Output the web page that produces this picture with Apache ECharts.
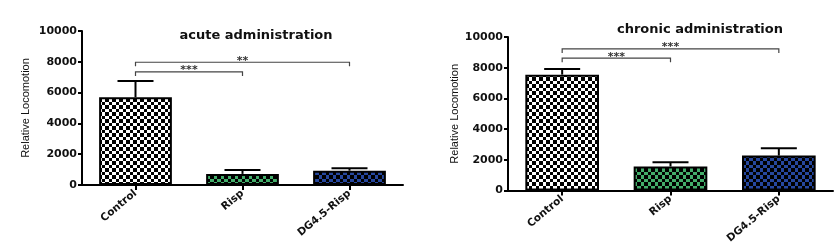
<!DOCTYPE html>
<html>
<head>
<meta charset="utf-8">
<script src="https://cdn.jsdelivr.net/npm/echarts@6/dist/echarts.min.js"></script>
<style>
  html, body { margin: 0; padding: 0; background: #fff; }
  #chart { width: 840px; height: 246px; }
</style>
</head>
<body>
<div id="chart"></div>
<script>
// groups on the x axis
var categories = ["Control", "Risp", "DG4.5-Risp"];
var yTicks = [0, 2000, 4000, 6000, 8000, 10000];

// acute administration: mean and top of error bar
var acuteMean = [5700, 720, 930];
var acuteUpper = [6750, 975, 1085];
// chronic administration
var chronicMean = [7550, 1570, 2280];
var chronicUpper = [7915, 1850, 2750];

// significance brackets: [from, to, level, stars]
var acuteSig = [[0, 1, 7340, "***"], [0, 2, 7970, "**"]];
var chronicSig = [[0, 1, 8620, "***"], [0, 2, 9225, "***"]];

function checker(bg) {
  var c = document.createElement("canvas");
  c.width = 7;
  c.height = 7;
  var ctx = c.getContext("2d");
  ctx.fillStyle = bg;
  ctx.fillRect(0, 0, 7, 7);
  ctx.fillStyle = "#000";
  ctx.fillRect(0, 0, 4, 4);
  ctx.fillRect(4, 4, 3, 3);
  return { image: c, repeat: "repeat" };
}
var fills = [checker("#ffffff"), checker("#43ad6a"), checker("#26479e")];

var tickFont = "DejaVu Sans";

function makeGrid(left, top, width, height) {
  return { left: left, top: top, width: width, height: height };
}

function xAxis(idx) {
  return {
    type: "category",
    gridIndex: idx,
    data: categories,
    axisLine: { lineStyle: { color: "#000", width: 2 } },
    axisTick: { show: true, alignWithLabel: true, length: 5, lineStyle: { color: "#000", width: 2 } },
    axisLabel: {
      rotate: 40,
      margin: 7,
      color: "#111",
      fontFamily: tickFont,
      fontWeight: "bold",
      fontSize: 10.5,
      interval: 0,
    },
  };
}

function yAxis(idx, gap) {
  return {
    type: "value",
    gridIndex: idx,
    min: yTicks[0],
    max: yTicks[yTicks.length - 1],
    interval: 2000,
    name: "Relative Locomotion",
    nameLocation: "middle",
    nameGap: gap,
    nameTextStyle: { fontFamily: "Liberation Sans", fontSize: 11, color: "#111" },
    splitLine: { show: false },
    axisLine: { show: true, lineStyle: { color: "#000", width: 2 } },
    axisTick: { show: true, length: 4, lineStyle: { color: "#000", width: 2 } },
    axisLabel: {
      margin: 5,
      color: "#111",
      fontFamily: tickFont,
      fontWeight: "bold",
      fontSize: 11,
      formatter: function (v) { return String(v); },
    },
  };
}

function barSeries(idx, values) {
  return {
    type: "bar",
    xAxisIndex: idx,
    yAxisIndex: idx,
    barWidth: "68%",
    data: values.map(function (v, i) {
      return { value: v, itemStyle: { color: fills[i] } };
    }),
    itemStyle: { borderColor: "#000", borderWidth: 2 },
    z: 2,
  };
}

function errorSeries(idx, means, uppers) {
  return {
    type: "custom",
    xAxisIndex: idx,
    yAxisIndex: idx,
    data: means.map(function (m, i) { return [i, m, uppers[i]]; }),
    renderItem: function (params, api) {
      var bottom = api.coord([api.value(0), api.value(1)]);
      var top = api.coord([api.value(0), api.value(2)]);
      var half = 18;
      var style = { stroke: "#000", lineWidth: 2 };
      return {
        type: "group",
        children: [
          { type: "line", shape: { x1: top[0], y1: top[1], x2: bottom[0], y2: bottom[1] }, style: style },
          { type: "line", shape: { x1: top[0] - half, y1: top[1], x2: top[0] + half, y2: top[1] }, style: style },
        ],
      };
    },
    z: 3,
  };
}

function sigSeries(idx, brackets) {
  return {
    type: "custom",
    xAxisIndex: idx,
    yAxisIndex: idx,
    data: brackets.map(function (b) { return [b[0], b[1], b[2]]; }),
    renderItem: function (params, api) {
      var a = api.coord([api.value(0), api.value(2)]);
      var b = api.coord([api.value(1), api.value(2)]);
      var drop = 4;
      return {
        type: "group",
        children: [
          {
            type: "polyline",
            shape: { points: [[a[0], a[1] + drop], a, b, [b[0], b[1] + drop]] },
            style: { stroke: "#444", lineWidth: 1.2, fill: null },
          },
          {
            type: "text",
            style: {
              x: (a[0] + b[0]) / 2,
              y: a[1] + 4,
              text: brackets[params.dataIndex][3],
              align: "center",
              verticalAlign: "bottom",
              fontFamily: "DejaVu Sans",
              fontWeight: "bold",
              fontSize: 11,
              fill: "#333",
            },
          },
        ],
      };
    },
    z: 4,
  };
}

var chart = echarts.init(document.getElementById("chart"));
chart.setOption({
  animation: false,
  backgroundColor: "#fff",
  title: [
    {
      text: "acute administration",
      left: 251,
      top: 24,
      textAlign: "center",
      textStyle: { fontFamily: "DejaVu Sans", fontWeight: "bold", fontSize: 13, color: "#111" },
    },
    {
      text: "chronic administration",
      left: 695,
      top: 18,
      textAlign: "center",
      textStyle: { fontFamily: "DejaVu Sans", fontWeight: "bold", fontSize: 13, color: "#111" },
    },
  ],
  grid: [makeGrid(82, 31, 321, 154), makeGrid(508, 37, 325, 155)],
  xAxis: [xAxis(0), xAxis(1)],
  yAxis: [yAxis(0, 51), yAxis(1, 45)],
  series: [
    barSeries(0, acuteMean),
    errorSeries(0, acuteMean, acuteUpper),
    sigSeries(0, acuteSig),
    barSeries(1, chronicMean),
    errorSeries(1, chronicMean, chronicUpper),
    sigSeries(1, chronicSig),
  ],
});
</script>
</body>
</html>
